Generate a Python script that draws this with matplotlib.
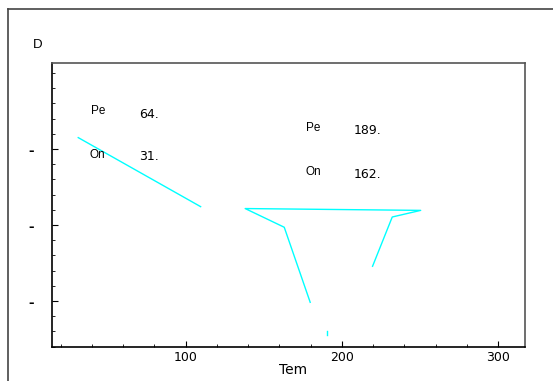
import numpy as np
import matplotlib
matplotlib.use("Agg")
import matplotlib.pyplot as plt
from matplotlib.lines import Line2D

plt.rcParams['font.family'] = ['Liberation Sans', 'DejaVu Sans']

# traces (Tem, D)
trace1_tem = [31.3, 109.6]
trace1_d = [3.149, 2.241]
trace2_tem = [179.7, 163.1, 138.1, 250.4, 232.2, 219.6]
trace2_d = [0.983, 1.970, 2.216, 2.192, 2.105, 1.457]
trace3_tem = [190.2, 190.2]
trace3_d = [0.605, 0.553]

# peak / onset readouts
names = ["Pe", "On", "Pe", "On"]
values = [64, 31, 189, 162]

x_major = [100, 200, 300]
y_major = [1, 2, 3]

fig = plt.figure(figsize=(5.53, 3.81), dpi=100)
ax = fig.add_axes([0.094, 0.0892, 0.855, 0.7454])

ax.plot(trace1_tem, trace1_d, color='cyan', lw=1)
ax.plot(trace2_tem, trace2_d, color='cyan', lw=1)
ax.plot(trace3_tem, trace3_d, color='cyan', lw=1)

ax.set_xlim(14.5, 317)
ax.set_ylim(0.395, 4.13)

ax.set_xticks(x_major)
ax.set_xticklabels([str(v) for v in x_major], fontsize=9, family='DejaVu Sans')
ax.set_xticks(np.arange(20, 320, 20), minor=True)
ax.set_yticks(y_major)
ax.set_yticklabels(['-'] * len(y_major), fontsize=12, fontweight='bold')
ax.set_yticks(np.arange(0.4, 4.1, 0.2), minor=True)

ax.tick_params(axis='both', which='major', direction='in', length=4, width=0.8)
ax.tick_params(axis='both', which='minor', direction='in', length=2, width=0.6)
ax.tick_params(axis='x', which='major', pad=3)
ax.tick_params(axis='y', which='major', pad=13)

for side in ['left', 'bottom']:
    ax.spines[side].set_color('black')
    ax.spines[side].set_linewidth(1.2)
for side in ['top', 'right']:
    ax.spines[side].set_color('#555555')
    ax.spines[side].set_linewidth(1.2)

ax.set_xlabel("Tem", fontsize=10, family='DejaVu Sans')
ax.xaxis.set_label_coords(0.51, -0.055)

# readout labels
label_pos = [(39.4, 3.50), (38.8, 2.92), (177, 3.276), (177, 2.697)]
value_pos = [(70.1, 3.447), (70.1, 2.895), (207.6, 3.237), (207.6, 2.67)]
for name, val, (nx, ny), (vx, vy) in zip(names, values, label_pos, value_pos):
    ax.text(nx, ny, name, fontsize=8.5, va='center', ha='left')
    ax.text(vx, vy, f"{val}.", fontsize=9, va='center', ha='left',
            family='DejaVu Sans')

fig.text(38 / 553, 1 - 45 / 381, "D", fontsize=9.5, ha='center', va='center')

# outer frame
fig.add_artist(Line2D([8 / 553, 1], [1 - 9 / 381, 1 - 9 / 381], color='#444444', lw=1.2))
fig.add_artist(Line2D([8 / 553, 8 / 553], [0, 1 - 9 / 381], color='#444444', lw=1.2))

fig.savefig("out.png", dpi=100)
